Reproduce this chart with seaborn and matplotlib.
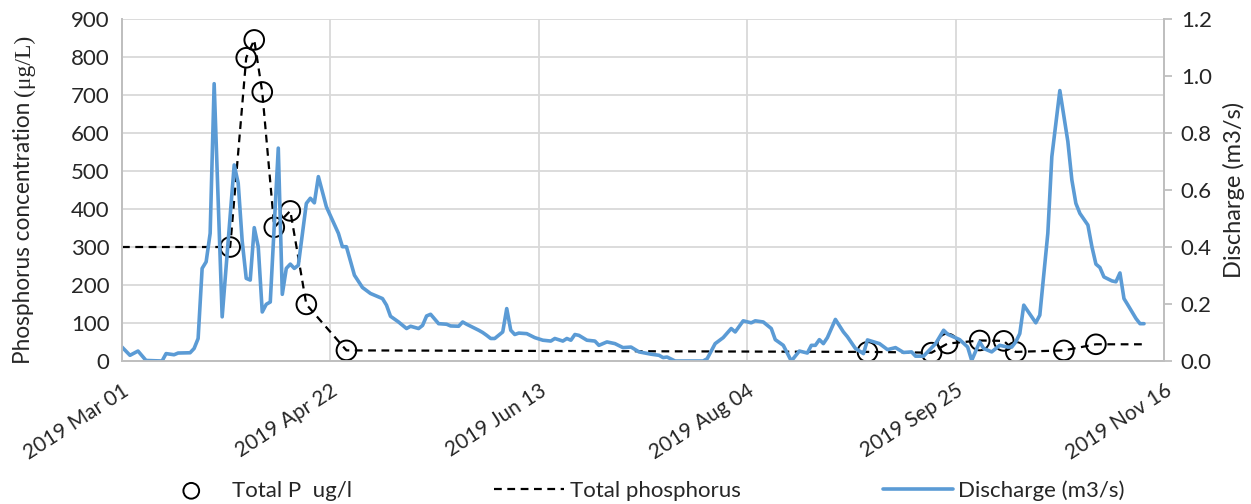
import numpy as np
import pandas as pd
import matplotlib
matplotlib.use("Agg")
import matplotlib.pyplot as plt
import seaborn as sns

start = pd.Timestamp("2019-03-01")

# discharge (m3/s), days counted from 2019 Mar 01
q_days = [0, 2, 4, 6, 10, 11, 13, 14, 17, 18, 19, 20, 21, 22, 23, 25, 28, 29, 30, 31,
          32, 33, 34, 35, 36, 37, 39, 40, 41, 42, 43, 44, 46, 47, 48, 49, 51, 54, 55, 56,
          58, 60, 62, 65, 66, 67, 69, 71, 72, 74, 75, 76, 77, 79, 81, 82, 84, 85, 86, 89,
          90, 91, 92, 93, 95, 96, 97, 98, 99, 101, 103, 105, 107, 108, 110, 111, 112, 113, 114, 116,
          118, 119, 121, 123, 125, 127, 129, 132, 134, 135, 136, 138, 145, 146, 148, 150, 152, 153, 155, 157,
          158, 160, 162, 163, 165, 167, 169, 171, 172, 173, 174, 175, 176, 178, 180, 181, 183, 185, 186, 189,
          191, 193, 195, 197, 198, 200, 203, 205, 206, 209, 211, 212, 214, 215, 217, 219, 221, 222, 223, 224,
          225, 227, 228, 229, 231, 232, 234, 236, 237, 238, 239, 241, 242, 243, 244, 245, 247, 248, 249, 250,
          251, 253, 254, 255]
q_vals = [0.049, 0.020, 0.035, 0.002, 0.000, 0.026, 0.022, 0.028, 0.029, 0.044, 0.079, 0.325, 0.348, 0.448, 0.973, 0.155, 0.688, 0.624, 0.420, 0.290,
          0.284, 0.468, 0.401, 0.172, 0.199, 0.207, 0.747, 0.234, 0.325, 0.340, 0.325, 0.336, 0.553, 0.571, 0.555, 0.647, 0.541, 0.448, 0.401, 0.401,
          0.301, 0.258, 0.237, 0.219, 0.196, 0.157, 0.137, 0.114, 0.122, 0.114, 0.125, 0.158, 0.164, 0.131, 0.129, 0.123, 0.122, 0.137, 0.129, 0.108,
          0.100, 0.090, 0.079, 0.079, 0.102, 0.184, 0.108, 0.093, 0.098, 0.096, 0.082, 0.073, 0.070, 0.079, 0.070, 0.079, 0.073, 0.093, 0.090, 0.073,
          0.070, 0.055, 0.067, 0.061, 0.047, 0.049, 0.032, 0.024, 0.020, 0.012, 0.014, 0.000, 0.000, 0.008, 0.061, 0.082, 0.114, 0.102, 0.141, 0.134,
          0.141, 0.137, 0.114, 0.075, 0.055, 0.000, 0.035, 0.028, 0.055, 0.055, 0.075, 0.061, 0.082, 0.146, 0.102, 0.085, 0.044, 0.026, 0.074, 0.061,
          0.040, 0.047, 0.030, 0.032, 0.017, 0.017, 0.061, 0.108, 0.094, 0.075, 0.049, 0.002, 0.067, 0.044, 0.032, 0.055, 0.049, 0.049, 0.067, 0.096,
          0.196, 0.155, 0.134, 0.161, 0.448, 0.717, 0.949, 0.770, 0.635, 0.553, 0.518, 0.477, 0.401, 0.340, 0.328, 0.295, 0.281, 0.278, 0.309, 0.219,
          0.196, 0.149, 0.131, 0.131]

# total P samples (ug/l)
tp_days = [27, 31, 33, 35, 38, 42, 46, 56, 186, 202, 206, 214, 220, 223, 235, 243]
tp_vals = [300, 798, 845, 708, 352, 395, 149, 28, 24, 22, 46, 54, 53, 24, 28, 44]

# dashed total phosphorus line, held flat before the first and after the last sample
line_days = [0] + tp_days + [255]
line_vals = [300] + tp_vals + [44]

tick_days = [0, 52, 104, 156, 208, 260]
tick_labels = ["2019 Mar 01", "2019 Apr 22", "2019 Jun 13", "2019 Aug 04", "2019 Sep 25", "2019 Nov 16"]

q = pd.DataFrame({"date": start + pd.to_timedelta(q_days, unit="D"), "q": q_vals})
tp = pd.DataFrame({"date": start + pd.to_timedelta(tp_days, unit="D"), "tp": tp_vals})
tpl = pd.DataFrame({"date": start + pd.to_timedelta(line_days, unit="D"), "tp": line_vals})

sns.set_style("white")
plt.rcParams["font.family"] = ["Lato", "DejaVu Sans"]
fs = 16

fig = plt.figure(figsize=(12.51, 5.04), dpi=100)
ax = fig.add_axes([0.0975, 0.2837, 0.833, 0.6786])
ax2 = ax.twinx()

sns.lineplot(data=tpl, x="date", y="tp", ax=ax, color="black", lw=1.6,
             dashes=False, linestyle=(0, (3.5, 2.5)), label="Total phosphorus", legend=False)
sns.scatterplot(data=tp, x="date", y="tp", ax=ax, marker="o", s=200, facecolor="none",
                edgecolor="black", linewidth=1.4, label="Total P  ug/l", legend=False, zorder=3)
sns.lineplot(data=q, x="date", y="q", ax=ax2, color="#5B9BD5", lw=2.6,
             label="Discharge (m3/s)", legend=False)

ticks = start + pd.to_timedelta(tick_days, unit="D")
ax.set_xlim(ticks[0], ticks[-1])
ax.set_xticks(ticks)
ax.set_xticklabels(tick_labels, rotation=33, ha="right", rotation_mode="anchor", fontsize=15)
ax.set_ylim(0, 900)
ax.set_yticks(np.arange(0, 901, 100))
ax.set_yticklabels([str(v) for v in range(0, 901, 100)], fontsize=fs)
ax2.set_ylim(0, 1.2)
ax2.set_yticks(np.arange(0, 1.21, 0.2))
ax2.set_yticklabels([f"{v:.1f}" for v in np.arange(0, 1.21, 0.2)], fontsize=fs)

ax.grid(True, color="#D9D9D9", lw=1.3)
ax.set_axisbelow(True)
ax2.grid(False)

for a in (ax, ax2):
    a.spines["top"].set_visible(False)
    for side in ("left", "right", "bottom"):
        a.spines[side].set_color("#BFBFBF")
        a.spines[side].set_linewidth(1.3)
ax.tick_params(axis="y", length=0, pad=9)
ax.tick_params(axis="x", length=0, pad=14)
ax2.tick_params(axis="y", length=6, color="#BFBFBF", width=1.3, pad=6)

ax.set_xlabel("")
ax.set_ylabel("")
ax2.set_ylabel("Discharge (m3/s)", fontsize=17, labelpad=8)

# left label: sans text followed by a serif unit, as in the original
fig.canvas.draw()
r = fig.canvas.get_renderer()
lx, ly = 30 / 1251, 1 - 364 / 504
t1 = fig.text(lx, ly, "Phosphorus concentration ", rotation=90, rotation_mode="anchor",
              ha="left", va="baseline", fontsize=16.3)
bb = t1.get_window_extent(r)
t2 = fig.text(lx, bb.y1 / fig.bbox.height, "(\u03bcg/L)", rotation=90, rotation_mode="anchor",
              ha="left", va="baseline", fontsize=17, family=["Liberation Serif", "DejaVu Serif"])

h1, l1 = ax.get_legend_handles_labels()
h2, l2 = ax2.get_legend_handles_labels()
handles = [h1[1], h1[0], h2[0]]
labels = [l1[1], l1[0], l2[0]]
fig.legend(handles, labels, loc="lower center", bbox_to_anchor=(0.512, -0.033), ncol=3,
           frameon=False, fontsize=16, handlelength=3.15, handletextpad=0.25,
           columnspacing=6.4, markerscale=0.8)

fig.savefig("out.png", dpi=100)
